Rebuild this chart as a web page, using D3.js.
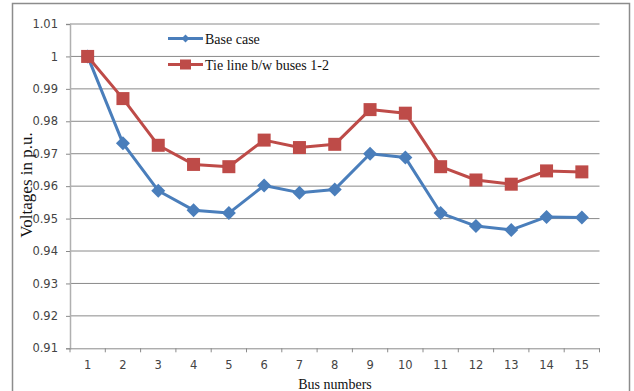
<!DOCTYPE html>
<html><head><meta charset="utf-8">
<script src="https://cdn.jsdelivr.net/npm/d3@7"></script>
<style>body{margin:0;background:#fff}</style>
</head><body>
<script>
const categories = ["1","2","3","4","5","6","7","8","9","10","11","12","13","14","15"];
const baseCase = [1.000,0.9732,0.9586,0.9526,0.9517,0.9602,0.9580,0.9590,0.9700,0.9688,0.9517,0.9477,0.9465,0.9505,0.9503];
const tieLine  = [1.000,0.9870,0.9726,0.9667,0.9660,0.9742,0.9719,0.9729,0.9836,0.9825,0.9660,0.9619,0.9606,0.9647,0.9644];
const yTicks = [0.91,0.92,0.93,0.94,0.95,0.96,0.97,0.98,0.99,1,1.01];
const seriesNames = ["Base case","Tie line b/w buses 1-2"];

const W=634,H=391;
const svg=d3.select("body").append("svg").attr("width",W).attr("height",H);
svg.append("rect").attr("x",12.5).attr("y",3.5).attr("width",617).attr("height",392)
  .attr("fill","#fff").attr("stroke","#8c8c8c").attr("stroke-width",1.5);

const L=70,R=599.5,T=24,B=348.3;
const x=d3.scaleBand().domain(categories).range([L,R]);
const y=d3.scaleLinear().domain([0.91,1.01]).range([B,T]);

// gridlines
svg.append("g").selectAll("line").data(yTicks.slice(1)).join("line")
  .attr("x1",L).attr("x2",R).attr("y1",d=>y(d)).attr("y2",d=>y(d))
  .attr("stroke","#8a8a8a").attr("stroke-width",1);

// y axis
const ya=svg.append("g").attr("transform",`translate(${L},0)`)
  .call(d3.axisLeft(y).tickValues(yTicks).tickSize(4).tickPadding(8).tickFormat(d=>String(+d.toFixed(2))));
ya.select(".domain").attr("stroke","#b0b0b0").attr("stroke-width",1.5);
ya.selectAll(".tick line").attr("stroke","#8a8a8a");
ya.selectAll("text").attr("font-family","DejaVu Sans").attr("font-size",11.5).attr("fill","#444");

// x axis
const xa=svg.append("g").attr("transform",`translate(0,${B})`)
  .call(d3.axisBottom(x).tickSize(0).tickPadding(13));
xa.select(".domain").attr("stroke","#8a8a8a");
xa.selectAll("text").attr("font-family","DejaVu Sans").attr("font-size",11.5).attr("fill","#444");
const bounds=categories.map(c=>x(c)).concat([R]);
svg.append("g").selectAll("line").data(bounds).join("line")
  .attr("x1",d=>d).attr("x2",d=>d).attr("y1",B).attr("y2",B+4).attr("stroke","#8a8a8a");

// titles
svg.append("text").attr("x",335).attr("y",389).attr("text-anchor","middle")
  .attr("font-family","Liberation Serif").attr("font-size",14).attr("fill","#111").text("Bus numbers");
svg.append("text").attr("transform","translate(32,185) rotate(-90)").attr("text-anchor","middle")
  .attr("font-family","Liberation Serif").attr("font-size",17).attr("fill","#111").text("Voltages in p.u.");

const cx=c=>x(c)+x.bandwidth()/2;
const colors=["#4a7ebb","#be4b48"];
const data=[baseCase,tieLine];
const line=d3.line().x((d,i)=>cx(categories[i])).y(d=>y(d));
data.forEach((s,k)=>{
  svg.append("path").datum(s).attr("d",line).attr("fill","none")
    .attr("stroke",colors[k]).attr("stroke-width",3).attr("stroke-linejoin","round");
});
// markers
svg.append("g").selectAll("path").data(baseCase).join("path")
  .attr("d","M0,-7L7,0L0,7L-7,0Z").attr("fill",colors[0])
  .attr("transform",(d,i)=>`translate(${cx(categories[i])},${y(d)})`);
svg.append("g").selectAll("rect").data(tieLine).join("rect")
  .attr("x",(d,i)=>cx(categories[i])-6.5).attr("y",d=>y(d)-6.5).attr("width",13).attr("height",13)
  .attr("fill",colors[1]);

// legend
const lg=[38.5,64.5];
seriesNames.forEach((n,k)=>{
  svg.append("line").attr("x1",168).attr("x2",203).attr("y1",lg[k]).attr("y2",lg[k])
    .attr("stroke",colors[k]).attr("stroke-width",3);
  if(k===0) svg.append("path").attr("d","M0,-4L4,0L0,4L-4,0Z").attr("fill",colors[0]).attr("transform",`translate(185.5,${lg[k]})`);
  else svg.append("rect").attr("x",180).attr("y",lg[k]-5).attr("width",11).attr("height",10).attr("fill",colors[1]);
  svg.append("text").attr("x",205).attr("y",lg[k]+5).attr("font-family","Liberation Serif")
    .attr("font-size",14).attr("fill","#111").text(n);
});
</script>
</body></html>
